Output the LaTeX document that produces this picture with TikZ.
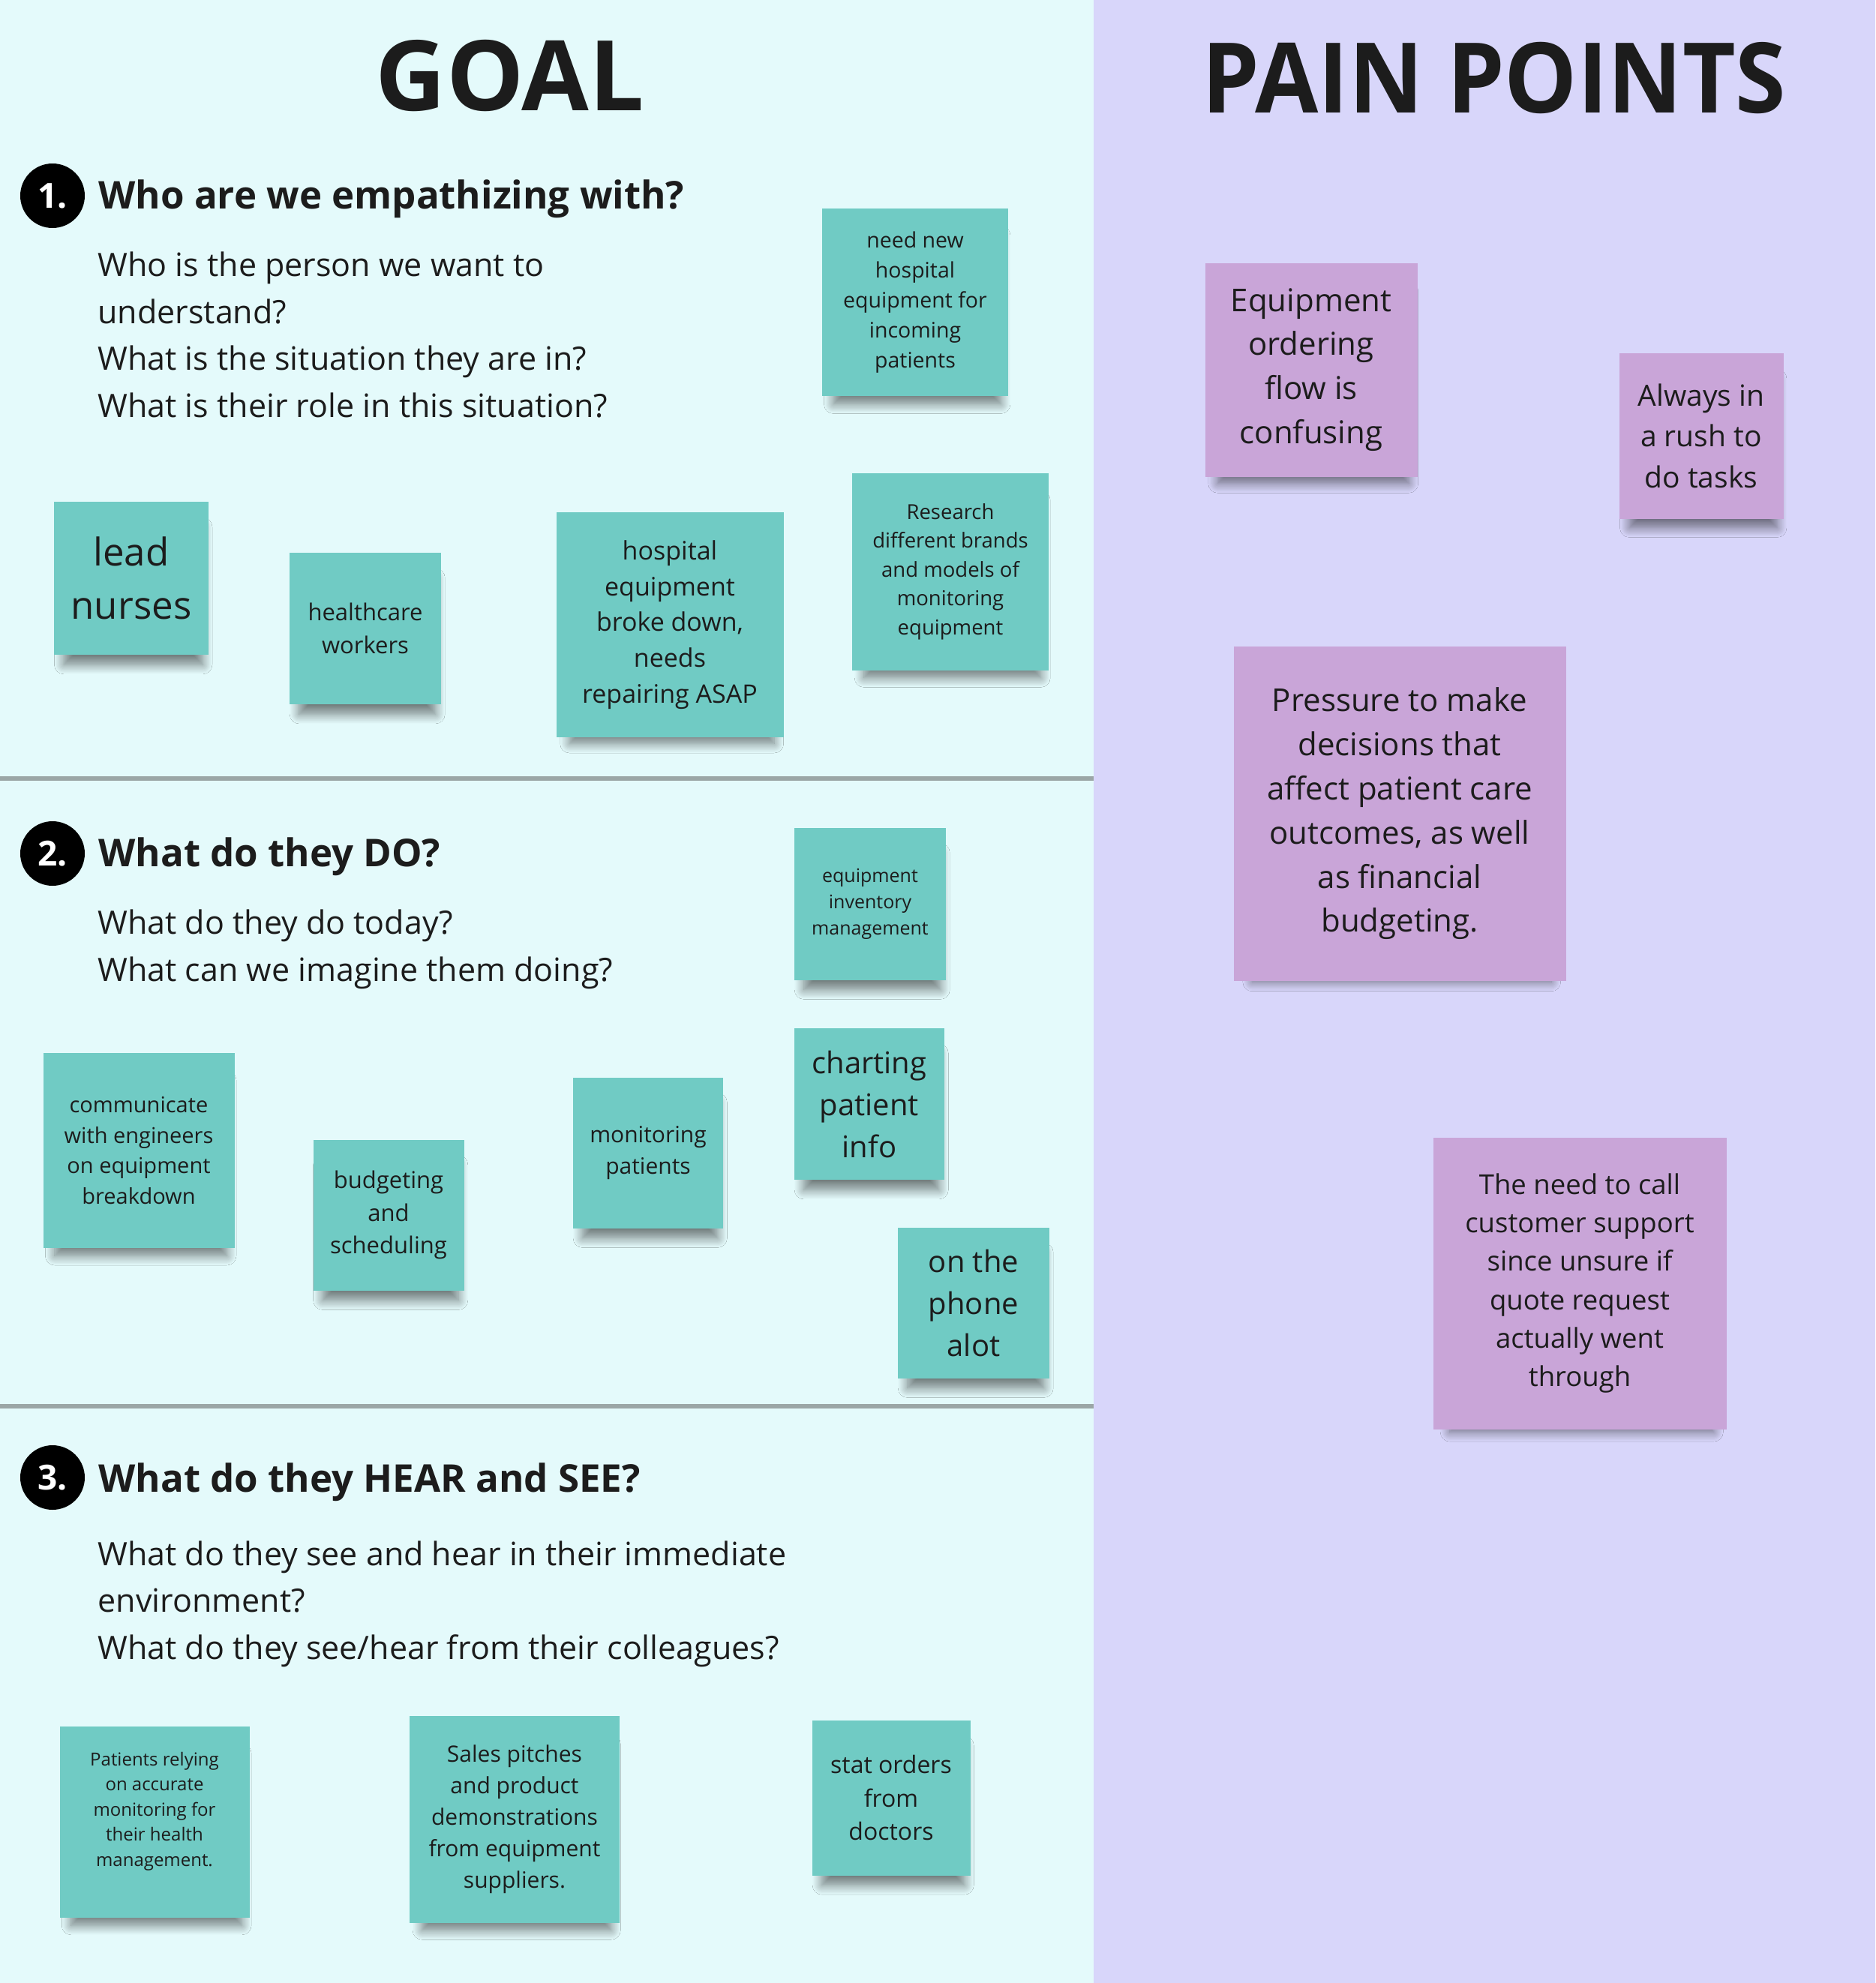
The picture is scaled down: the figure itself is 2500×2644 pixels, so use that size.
\documentclass[tikz,border=0pt]{standalone}
\usepackage{fontspec}
\setmainfont{Open Sans}
\usepackage{tikz}
\usetikzlibrary{shadows.blur}
\definecolor{goalbg}{RGB}{228,250,251}
\definecolor{painbg}{RGB}{216,214,250}
\definecolor{noteteal}{RGB}{112,203,196}
\definecolor{notepink}{RGB}{201,165,216}
\definecolor{rulegray}{RGB}{155,166,166}
\definecolor{inkdark}{RGB}{28,28,28}
\newcommand\fs[1]{\fontsize{#1}{\fpeval{1.4*#1}}\selectfont}

\begin{document}
\begin{tikzpicture}[x=1pt, y=-1pt,
  note/.style 2 args={rectangle, inner sep=0pt, minimum width=#1, minimum height=#2,
              align=center, text=inkdark,
              blur shadow={shadow xshift=3pt, shadow yshift=-26pt, shadow scale=0.9,
                           shadow opacity=50, shadow blur radius=14pt, shadow blur steps=12}},
  tealnote/.style 2 args={note={#1}{#2}, fill=noteteal},
  pinknote/.style 2 args={note={#1}{#2}, fill=notepink},
  bigtitle/.style={anchor=base, text=inkdark, font=\fontsize{130}{130}\selectfont\bfseries},
  numdot/.style={circle, fill=black, minimum size=86, inner sep=0pt, text=white,
                 font=\fs{46}\bfseries},
  qhead/.style={anchor=base west, text=inkdark, font=\fs{51}\bfseries},
  % base = last line of the block
  qbody/.style={anchor=base west, text=inkdark, align=left,
                font=\fontsize{43}{62.5}\selectfont},
]
  \useasboundingbox (0,0) rectangle (2500,2644);
  \fill[goalbg] (0,0) rectangle (1458,2644);
  \fill[painbg] (1458,0) rectangle (2500,2644);
  \draw[rulegray, line width=6] (0,1038) -- (1458,1038);
  \draw[rulegray, line width=6] (0,1875) -- (1458,1875);

  \node[bigtitle] (goal) at (680,147) {GOAL};
  \node[bigtitle] (pain) at (1992,150) {\scalebox{0.94}[1]{PAIN POINTS}};

  % 1. who
  \node[numdot] (num1) at (70,261) {1.};
  \node[qhead] (head1) at (128,278) {Who are we empathizing with?};
  \node[qbody] (body1) at (127,556) {Who is the person we want to\\understand?\\What is the situation they are in?\\What is their role in this situation?};

  \node[tealnote={248}{250}, font=\fs{28.5}] (needNew) at (1220,403) {need new\\hospital\\equipment for\\incoming\\patients};
  \node[tealnote={206}{204}, font=\fs{51}] (leadNurses) at (175,771) {lead\\nurses};
  \node[tealnote={202}{202}, font=\fs{31}] (healthWorkers) at (487,838) {healthcare\\workers};
  \node[tealnote={303}{300}, font=\fs{34}] (brokeDown) at (893,833) {hospital\\equipment\\broke down,\\needs\\repairing ASAP};
  \node[tealnote={262}{263}, font=\fs{27.5}] (research) at (1267,762) {Research\\different brands\\and models of\\monitoring\\equipment};

  % 2. do
  \node[numdot] (num2) at (70,1138) {2.};
  \node[qhead] (head2) at (128,1155) {What do they DO?};
  \node[qbody] (body2) at (127,1308) {What do they do today?\\What can we imagine them doing?};

  \node[tealnote={202}{203}, font=\fs{25}] (inventory) at (1160,1205) {equipment\\inventory\\management};
  \node[tealnote={255}{260}, font=\fs{29}] (engineers) at (185,1534) {communicate\\with engineers\\on equipment\\breakdown};
  \node[tealnote={201}{201}, font=\fs{31}] (budgeting) at (518,1620) {budgeting\\and\\scheduling};
  \node[tealnote={200}{201}, font=\fs{30}] (monitoring) at (864,1537) {monitoring\\patients};
  \node[tealnote={200}{202}, font=\fs{40}] (charting) at (1159,1472) {charting\\patient\\info};
  \node[tealnote={202}{201}, font=\fs{40}] (phone) at (1298,1737) {on the\\phone\\alot};

  % 3. hear and see
  \node[numdot] (num3) at (70,1970) {3.};
  \node[qhead] (head3) at (128,1989) {What do they HEAR and SEE?};
  \node[qbody] (body3) at (127,2212) {What do they see and hear in their immediate\\environment?\\What do they see/hear from their colleagues?};

  \node[tealnote={253}{255}, font=\fs{24}] (relying) at (206,2429) {Patients relying\\on accurate\\monitoring for\\their health\\management.\\\mbox{}};
  \node[tealnote={280}{276}, font=\fs{30}] (salesPitch) at (686,2426) {Sales pitches\\and product\\demonstrations\\from equipment\\suppliers.};
  \node[tealnote={211}{207}, font=\fs{32}] (statOrders) at (1188,2397) {stat orders\\from\\doctors};

  % pain points
  \node[pinknote={283}{285}, font=\fs{42}] (confusing) at (1748,493) {Equipment\\ordering\\flow is\\confusing};
  \node[pinknote={219}{221}, font=\fs{39}] (rush) at (2268,581) {Always in\\a rush to\\do tasks};
  \node[pinknote={443}{446}, font=\fs{42}] (pressure) at (1866,1085) {Pressure to make\\decisions that\\affect patient care\\outcomes, as well\\as financial\\budgeting.};
  \node[pinknote={391}{389}, font=\fs{36.5}] (support) at (2106,1711) {The need to call\\customer support\\since unsure if\\quote request\\actually went\\through};
\end{tikzpicture}
\end{document}
